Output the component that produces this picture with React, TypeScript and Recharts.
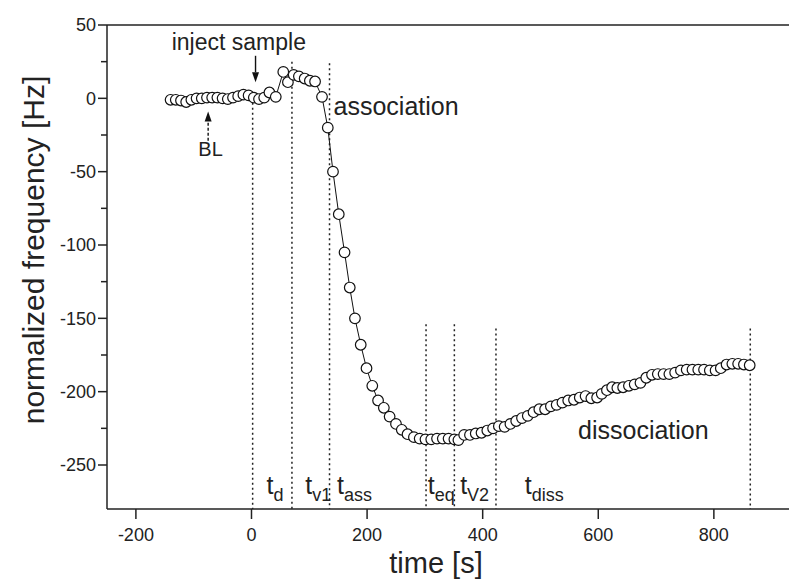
import React from 'react';
import { LineChart, Line, XAxis, YAxis, ReferenceLine, ReferenceDot } from 'recharts';

// measurement times [s]
const times = [
  -140, -131, -122, -113, -104, -95, -86, -77, -68, -59, -50, -41, -32, -23, -14, -5, 4, 13, 22, 31, 42,
  55, 63, 73, 82, 92, 101, 110, 122, 132, 141, 151, 161, 170, 179, 189, 199, 209, 219, 229, 239, 250,
  260, 270, 281, 291, 301, 311, 321, 331, 341, 351, 358, 368, 378, 388, 398, 408, 418, 428, 438, 448,
  458, 468, 478, 488, 498, 508, 518, 528, 538, 548, 558, 568, 578, 588, 598, 606, 615, 624, 633, 643,
  653, 663, 673, 683, 693, 703, 713, 723, 733, 743, 753, 763, 773, 783, 793, 803, 812, 822, 832, 842,
  852, 862,
];

// normalized frequency [Hz]
const freq = [
  -1, -1, -1.5, -2.5, -1, 0, 0, 0.5, 0.5, 0.5, 0, -0.5, 0.5, 1.5, 2.5, 2, 0.5, -0.5, 0.5, 4, 1,
  18, 11, 16, 15, 13.5, 12, 11.5, 1, -20, -50, -79, -105, -129, -150, -168, -184, -196, -206, -211, -217, -222,
  -226, -229, -231, -232, -232.5, -232.5, -232, -232, -232, -232.5, -233, -229.5, -229.5, -228.5, -228, -226.5, -225, -223.5, -224, -222,
  -220, -218, -216.5, -214, -212, -212, -210, -209, -207.5, -206, -205.5, -204, -203, -204.5, -204, -201.5, -199, -197, -197.5, -197,
  -196, -195, -194, -190.5, -188.5, -188, -188, -188, -187, -185.5, -185, -185, -185, -185, -185.5, -185.5, -184, -181.5, -181, -181,
  -181.5, -182,
];

const xTicks = [-200, 0, 200, 400, 600, 800];
const yTicks = [50, 25, 0, -25, -50, -75, -100, -125, -150, -175, -200, -225, -250];

// vertical phase markers: time, top of the dotted line
const markerTimes = [2, 70, 135, 302, 351, 423, 863];
const markerTops = [-3, 25, 24, -154, -154, -157, -157];

// phase labels t_sub
const phaseMain = ['t', 't', 't', 't', 't', 't'];
const phaseSub = ['d', 'v1', 'ass', 'eq', 'V2', 'diss'];
const phaseTimes = [26, 93, 148, 305, 361, 473];

const data = times.map((t, i) => ({ t, f: freq[i] }));

const font = '"Liberation Sans", Arial, Helvetica, sans-serif';

const XTick = (props: any) => {
  const { x, y, payload } = props;
  return (
    <g>
      <line x1={x} y1={y} x2={x} y2={y + 10} stroke="#222" strokeWidth={1.5} />
      <text x={x} y={y + 32} textAnchor="middle" fontSize={18} fill="#222" fontFamily={font}>
        {payload.value}
      </text>
    </g>
  );
};

const YTick = (props: any) => {
  const { x, y, payload } = props;
  const major = payload.value % 50 === 0;
  return (
    <g>
      <line x1={x - (major ? 9 : 6)} y1={y} x2={x} y2={y} stroke="#222" strokeWidth={1.5} />
      {major && (
        <text x={x - 11} y={y} dy="0.35em" textAnchor="end" fontSize={18} fill="#222" fontFamily={font}>
          {payload.value}
        </text>
      )}
    </g>
  );
};

const XTitle = () => (
  <text x={436} y={573} textAnchor="middle" fontSize={29} fill="#222" fontFamily={font}>
    time [s]
  </text>
);

const YTitle = () => (
  <text x={44} y={250} transform="rotate(-90 44 250)" textAnchor="middle" fontSize={30} fill="#222" fontFamily={font}>
    normalized frequency [Hz]
  </text>
);

const Arrow = (props: any) => {
  const { x1, y1, x2, y2, dashed } = props;
  const dir = y2 > y1 ? 1 : -1;
  const head = 10;
  return (
    <g>
      <line
        x1={x1}
        y1={y1}
        x2={x2}
        y2={y2 - dir * head}
        stroke="#111"
        strokeWidth={1.4}
        strokeDasharray={dashed ? '3 2' : undefined}
      />
      <polygon points={`${x2},${y2} ${x2 - 3.5},${y2 - dir * head} ${x2 + 3.5},${y2 - dir * head}`} fill="#111" />
    </g>
  );
};

const textShape = (label: string, size: number) => (props: any) => (
  <text x={props.cx} y={props.cy} fontSize={size} fill="#222" fontFamily={font}>
    {label}
  </text>
);

const phaseShape = (main: string, sub: string) => (props: any) => (
  <text x={props.cx} y={props.cy} fontSize={25} fill="#222" fontFamily={font}>
    {main}
    <tspan fontSize={18} dy={7}>
      {sub}
    </tspan>
  </text>
);

export default function App() {
  return (
    <div style={{ position: 'absolute', left: 0, top: 0, background: '#fff' }}>
      <LineChart width={789} height={579} data={data} margin={{ top: 25, right: 0, left: 0, bottom: 0 }}>
        <XAxis
          dataKey="t"
          type="number"
          domain={[-250, 930]}
          ticks={xTicks}
          interval={0}
          height={70}
          tickSize={0}
          tickMargin={0}
          tickLine={false}
          tick={<XTick />}
          axisLine={{ stroke: '#222', strokeWidth: 1.5 }}
          label={<XTitle />}
        />
        <YAxis
          type="number"
          domain={[-280, 50]}
          ticks={yTicks}
          interval={0}
          width={107}
          tickSize={0}
          tickMargin={0}
          tickLine={false}
          tick={<YTick />}
          axisLine={{ stroke: '#222', strokeWidth: 1.5 }}
          label={<YTitle />}
        />
        <ReferenceLine y={50} stroke="#222" strokeWidth={1.5} />
        {markerTimes.map((t, i) => (
          <ReferenceLine
            key={t}
            segment={[
              { x: t, y: markerTops[i] },
              { x: t, y: -280 },
            ]}
            stroke="#222"
            strokeWidth={1.5}
            strokeDasharray="2 3"
          />
        ))}
        <ReferenceLine
          segment={[
            { x: 7, y: 29 },
            { x: 7, y: 11 },
          ]}
          shape={(p: any) => <Arrow {...p} />}
        />
        <ReferenceLine
          segment={[
            { x: -75, y: -29 },
            { x: -75, y: -9 },
          ]}
          shape={(p: any) => <Arrow {...p} dashed />}
        />
        <ReferenceDot x={-138} y={33} shape={textShape('inject sample', 23)} />
        <ReferenceDot x={-92} y={-39.5} shape={textShape('BL', 20)} />
        <ReferenceDot x={142} y={-11.5} shape={textShape('association', 25)} />
        <ReferenceDot x={565} y={-232} shape={textShape('dissociation', 25)} />
        {phaseTimes.map((t, i) => (
          <ReferenceDot key={phaseSub[i]} x={t} y={-270} shape={phaseShape(phaseMain[i], phaseSub[i])} />
        ))}
        <Line
          type="linear"
          dataKey="f"
          stroke="#111"
          strokeWidth={1}
          dot={{ r: 5.3, fill: '#fff', stroke: '#111', strokeWidth: 1.2 }}
          isAnimationActive={false}
        />
      </LineChart>
    </div>
  );
}
